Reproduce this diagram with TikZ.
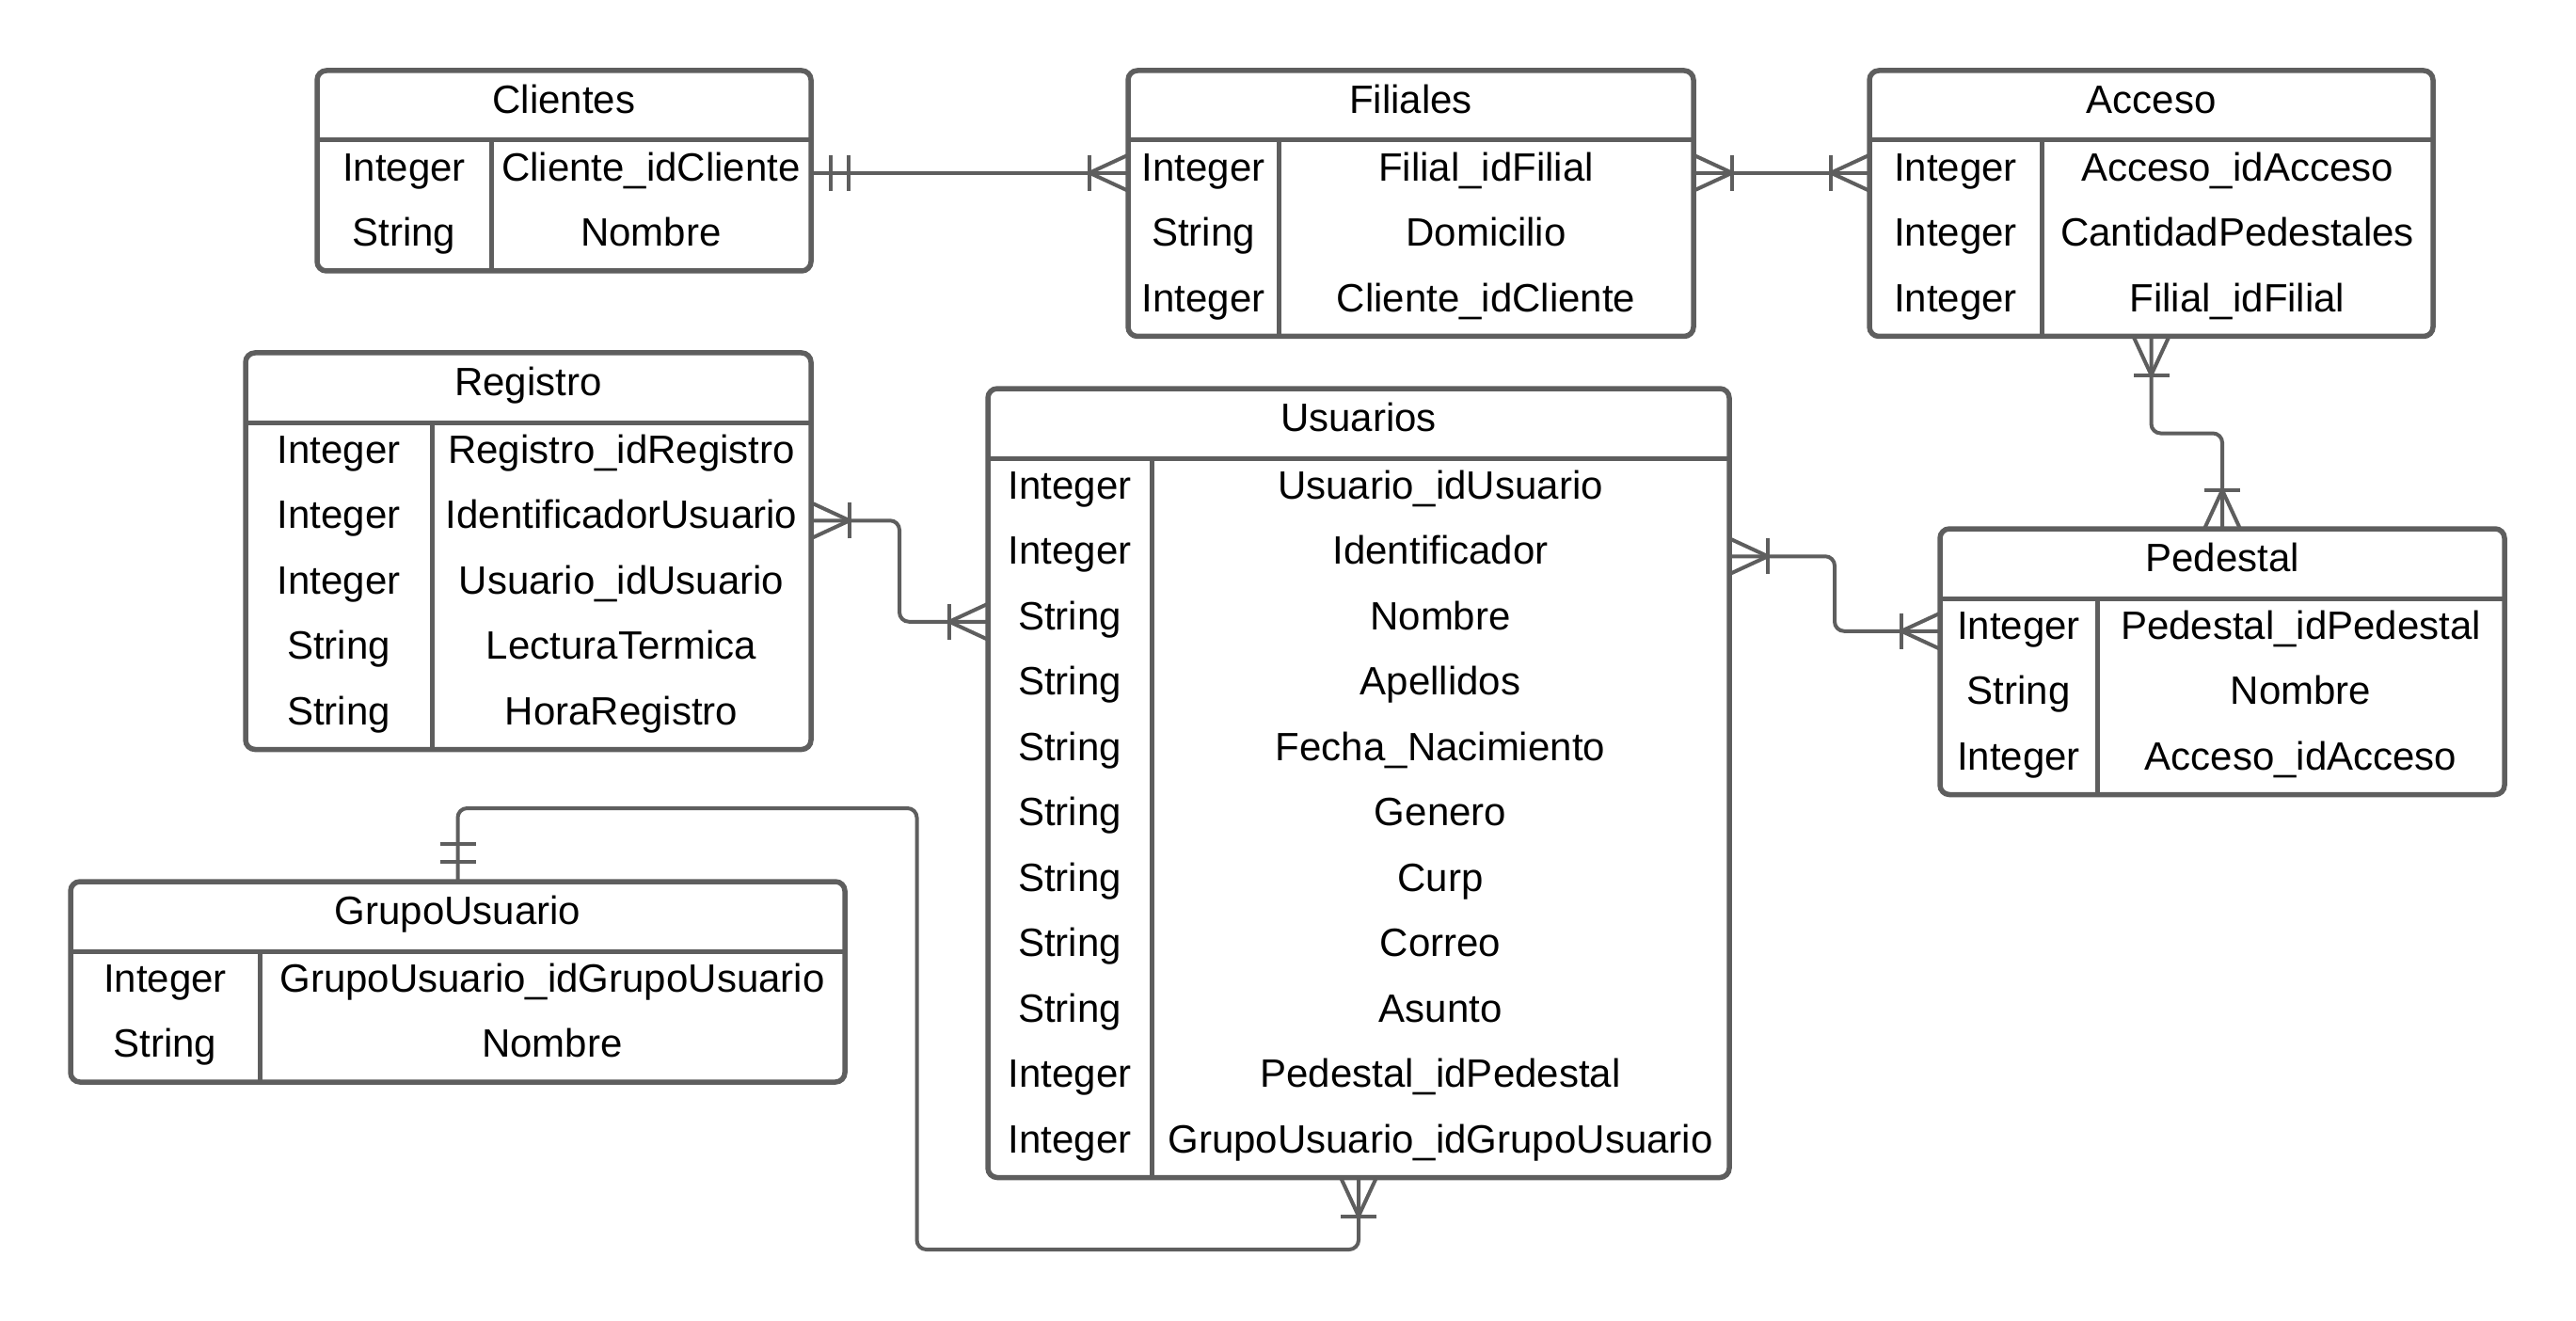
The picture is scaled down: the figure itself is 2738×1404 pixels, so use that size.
\documentclass[tikz,border=0pt]{standalone}
\usepackage{fontspec}
\setmainfont{Liberation Sans}
\usetikzlibrary{calc}
\definecolor{ergray}{RGB}{94,94,94}
\tikzset{
  tbl/.style={draw=ergray, line width=5.5pt, rounded corners=10pt, fill=white, inner sep=0pt, outer sep=0pt},
  div/.style={draw=ergray, line width=5pt},
  cell/.style={inner sep=0pt, outer sep=0pt, text height=30pt, text depth=13pt, text=black},
  conn/.style={draw=ergray, line width=4pt},
  connr/.style={conn, rounded corners=10pt}
}
% #1 name, #2 left, #3 top, #4 right, #5 column divider, #6 rows, #7 title, #8 rows list
\newcommand\ertable[8]{%
  \node[tbl, minimum width={(#4-#2)*1pt}, minimum height={(74+#6*69.5)*1pt}, anchor=north west] (#1) at (#2,#3) {};
  \node[cell] (#1-title) at ({(#2+#4)/2},{#3+37}) {#7};
  \draw[div] (#2,{#3+74}) -- (#4,{#3+74});
  \draw[div] (#5,{#3+74}) -- (#5,{#3+74+#6*69.5});
  \foreach \ty/\nm [count=\rr] in {#8} {
    \node[cell] (#1-t\rr) at ({(#2+#5)/2},{#3+74+(\rr-0.5)*69.5}) {\ty};
    \node[cell] (#1-n\rr) at ({(#5+#4)/2},{#3+74+(\rr-0.5)*69.5}) {\nm};
  }
}
% crow's foot with bar: #1 point, #2 dx, #3 dy (direction away from the box)
\newcommand\crow[3]{%
  \draw[conn] ($(#1)+({(#3)*19},{(#2)*19})$) -- ($(#1)+({(#2)*41},{(#3)*41})$) -- ($(#1)+({-(#3)*19},{-(#2)*19})$);
  \draw[conn] ($(#1)+({(#2)*41+(#3)*19},{(#3)*41+(#2)*19})$) -- ($(#1)+({(#2)*41-(#3)*19},{(#3)*41-(#2)*19})$);
}
% one and only one: two bars
\newcommand\onlyone[3]{%
  \draw[conn] ($(#1)+({(#2)*21+(#3)*19},{(#3)*21+(#2)*19})$) -- ($(#1)+({(#2)*21-(#3)*19},{(#3)*21-(#2)*19})$);
  \draw[conn] ($(#1)+({(#2)*40+(#3)*19},{(#3)*40+(#2)*19})$) -- ($(#1)+({(#2)*40-(#3)*19},{(#3)*40-(#2)*19})$);
}
\begin{document}
\begin{tikzpicture}[x=1pt,y=-1pt,font=\fontsize{42}{50}\selectfont]
\fill[white] (0,0) rectangle (2738,1404);
\useasboundingbox (0,0) rectangle (2738,1404);

\ertable{clientes}{337}{75}{862}{522}{2}{Clientes}{Integer/Cliente\_idCliente, String/Nombre}
\ertable{filiales}{1199}{75}{1800}{1359}{3}{Filiales}{Integer/Filial\_idFilial, String/Domicilio, Integer/Cliente\_idCliente}
\ertable{acceso}{1987}{75}{2586}{2170}{3}{Acceso}{Integer/Acceso\_idAcceso, Integer/CantidadPedestales, Integer/Filial\_idFilial}
\ertable{registro}{261}{375}{862}{459}{5}{Registro}{Integer/Registro\_idRegistro, Integer/IdentificadorUsuario, Integer/Usuario\_idUsuario, String/LecturaTermica, String/HoraRegistro}
\ertable{usuarios}{1050}{413}{1838}{1224}{11}{Usuarios}{Integer/Usuario\_idUsuario, Integer/Identificador, String/Nombre, String/Apellidos, String/Fecha\_Nacimiento, String/Genero, String/Curp, String/Correo, String/Asunto, Integer/Pedestal\_idPedestal, Integer/GrupoUsuario\_idGrupoUsuario}
\ertable{pedestal}{2062}{562}{2662}{2229}{3}{Pedestal}{Integer/Pedestal\_idPedestal, String/Nombre, Integer/Acceso\_idAcceso}
\ertable{grupo}{75}{937}{898}{276}{2}{GrupoUsuario}{Integer/GrupoUsuario\_idGrupoUsuario, String/Nombre}

\coordinate (c1a) at (clientes.east |- clientes-n1);
\coordinate (c1b) at (filiales.west |- filiales-n1);
\coordinate (c2a) at (filiales.east |- filiales-n1);
\coordinate (c2b) at (acceso.west |- acceso-n1);
\coordinate (c3a) at (acceso.south);
\coordinate (c3b) at (pedestal.north);
\coordinate (c4a) at (registro.east |- registro-n2);
\coordinate (c4b) at (usuarios.west |- usuarios-n3);
\coordinate (c5a) at (usuarios.east |- usuarios-n2);
\coordinate (c5b) at (pedestal.west |- pedestal-n1);
\coordinate (c6a) at (grupo.north);
\coordinate (c6b) at (usuarios.south);

\draw[conn] (c1a) -- (c1b);
\draw[conn] (c2a) -- (c2b);
\draw[connr] (c3a) -- ++(0,103) -| (c3b);
\draw[connr] (c4a) -| ($(c4a)!.5!(c4b)$) |- (c4b);
\draw[connr] (c5a) -| ($(c5a)!.5!(c5b)$) |- (c5b);
\draw[connr] (c6a) -- ++(0,-78) -| ++(488,469) -| (c6b);

\onlyone{c1a}{1}{0}
\crow{c1b}{-1}{0}
\crow{c2a}{1}{0}
\crow{c2b}{-1}{0}
\crow{c3a}{0}{1}
\crow{c3b}{0}{-1}
\crow{c4a}{1}{0}
\crow{c4b}{-1}{0}
\crow{c5a}{1}{0}
\crow{c5b}{-1}{0}
\onlyone{c6a}{0}{-1}
\crow{c6b}{0}{1}
\end{tikzpicture}
\end{document}
